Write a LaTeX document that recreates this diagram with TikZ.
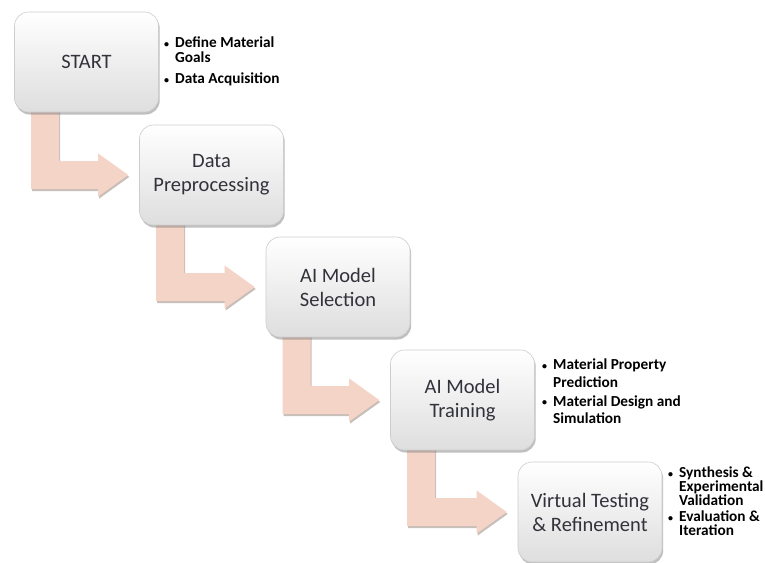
\documentclass[tikz,border=0pt]{standalone}
\usepackage{fontspec}
\setmainfont{Carlito}
\usetikzlibrary{shadows,backgrounds,calc}
\definecolor{arrowpink}{RGB}{245,212,200}
\definecolor{arrowshadow}{RGB}{200,190,186}
\definecolor{boxborder}{RGB}{205,205,205}
\definecolor{boxtext}{RGB}{50,50,58}
\tikzset{
  stage/.style={rounded corners=14pt, draw=boxborder, line width=0.6pt,
    top color=white, bottom color=black!13, minimum width=144pt, minimum height=100pt,
    align=center, font=\fontsize{20.5}{24}\selectfont, text=boxtext,
    drop shadow={shadow xshift=1.2pt, shadow yshift=-2.5pt, opacity=0.45, fill=black!55}},
  bul/.style={anchor=north west, inner sep=0pt, align=left,
    font=\bfseries\fontsize{15.3}{15}\selectfont, text=black},
  arrowbody/.style={fill=arrowpink},
  arrowshade/.style={fill=arrowshadow}
}
\newcommand\stagearrowpath[4]{%
  let \p1=(#1.south west), \p2=(#2.west) in
    (\x1+17pt+#3,\y1+4pt+#4) -- (\x1+45pt+#3,\y1+4pt+#4) -- (\x1+45pt+#3,\y2+14pt+#4)
    -- (\x2-41pt+#3,\y2+14pt+#4) -- (\x2-41pt+#3,\y2+21.5pt+#4) -- (\x2-11pt+#3,\y2+#4)
    -- (\x2-41pt+#3,\y2-21.5pt+#4) -- (\x2-41pt+#3,\y2-14pt+#4) -- (\x1+17pt+#3,\y2-14pt+#4) -- cycle}
\newcommand\stagearrow[2]{%
  \fill[arrowshade] \stagearrowpath{#1}{#2}{1pt}{-2pt};
  \fill[arrowbody] \stagearrowpath{#1}{#2}{0pt}{0pt};}
\newcommand\bl{\makebox[11pt][l]{\raisebox{0.5pt}{\fontsize{10}{10}\selectfont •}}}
\newcommand\ind{\hspace*{11pt}}
\begin{document}
\begin{tikzpicture}[x=1pt,y=-1pt]
  \useasboundingbox (0,0) rectangle (765,562);

  \node[stage] (start) at (86.5,62) {START};
  \node[stage] (prep) at (211.5,175) {Data\\Preprocessing};
  \node[stage] (sel) at (338,287) {AI Model\\Selection};
  \node[stage] (train) at (462.5,400) {AI Model\\Training};
  \node[stage] (virt) at (590,512) {Virtual Testing\\\& Refinement};

  \begin{scope}[on background layer]
    \fill[white] (0,0) rectangle (765,562);
    \stagearrow{start}{prep}
    \stagearrow{prep}{sel}
    \stagearrow{sel}{train}
    \stagearrow{train}{virt}
  \end{scope}

  \node[bul] (b1) at (164,37) {\bl Define Material\\\ind Goals\\[6pt]\bl Data Acquisition};
  \node[bul, font=\bfseries\fontsize{15.3}{17.5}\selectfont] (b2) at (542,359)
    {\bl Material Property\\\ind Prediction\\[1.5pt]\bl Material Design and\\\ind Simulation};
  \node[bul, font=\bfseries\fontsize{15.3}{14}\selectfont] (b3) at (668,467)
    {\bl Synthesis \&\\\ind Experimental\\\ind Validation\\[2pt]\bl Evaluation \&\\\ind Iteration};
\end{tikzpicture}
\end{document}
